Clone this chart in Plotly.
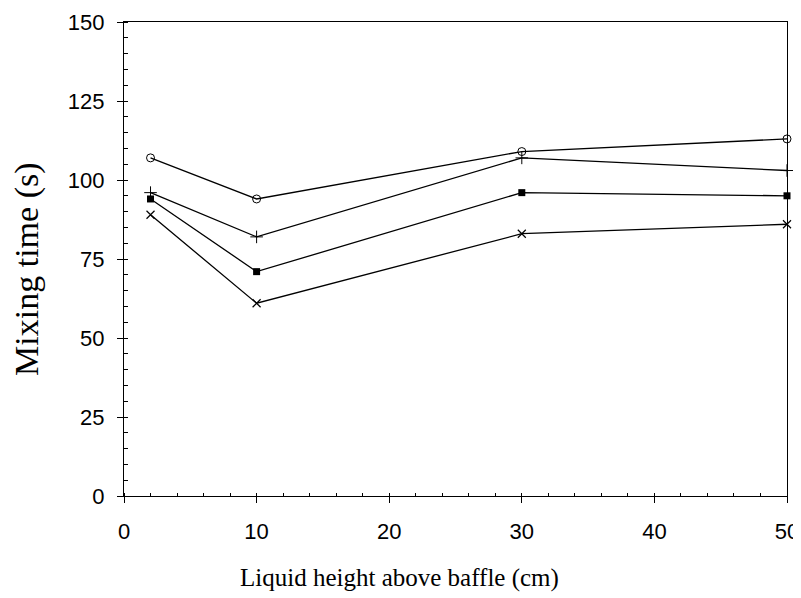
import plotly.graph_objects as go

heights = [2, 10, 30, 50]
series_circle = [107, 94, 109, 113]
series_plus = [96, 82, 107, 103]
series_square = [94, 71, 96, 95]
series_x = [89, 61, 83, 86]

x_ticks = [0, 10, 20, 30, 40, 50]
y_ticks = [0, 25, 50, 75, 100, 125, 150]
x_title = "Liquid height above baffle (cm)"
y_title = "Mixing time (s)"

fig = go.Figure()
specs = [
    (series_circle, dict(symbol="circle-open", size=8, color="black", line=dict(width=1, color="black"))),
    (series_plus, dict(symbol="cross-thin-open", size=9, color="black", line=dict(width=1, color="black"))),
    (series_square, dict(symbol="square", size=7, color="black")),
    (series_x, dict(symbol="x-thin-open", size=8, color="black", line=dict(width=1.2, color="black"))),
]
for ys, mk in specs:
    fig.add_trace(go.Scatter(x=heights, y=ys, mode="lines+markers",
                             line=dict(color="black", width=1.3),
                             marker=mk, showlegend=False, cliponaxis=False))

axis_common = dict(showgrid=False, zeroline=False, showline=True, linecolor="black",
                   linewidth=1.3, mirror=True, ticks="outside", ticklen=6,
                   automargin=False,
                   tickcolor="black", tickfont=dict(family="Liberation Sans, Arial", size=22, color="black"))

fig.update_xaxes(range=[0, 50], tickvals=x_ticks, **axis_common, ticklabelstandoff=9,
                 minor=dict(ticks="inside", ticklen=3, dtick=2, tickcolor="black"))
fig.update_yaxes(range=[0, 150], tickvals=y_ticks, **axis_common, ticklabelstandoff=8,
                 minor=dict(ticks="inside", ticklen=4, dtick=5, tickcolor="black"))

serif = dict(family="Liberation Serif, Times New Roman", color="black")
fig.add_annotation(text=x_title, xref="paper", yref="paper", x=0.416, y=0,
                   xanchor="center", yanchor="top", yshift=-66, showarrow=False,
                   font=dict(size=25, **serif))
fig.add_annotation(text=y_title, xref="paper", yref="paper", x=0, y=0.477,
                   xanchor="center", yanchor="middle", xshift=-97, textangle=-90,
                   showarrow=False, font=dict(size=34, **serif))

# page body adds an 8px offset; size the figure so the plot lands where the reference has it
fig.update_layout(width=793, height=590, plot_bgcolor="white", paper_bgcolor="white",
                  margin=dict(l=116, r=14, t=14, b=102))
fig.write_html("out.html")
